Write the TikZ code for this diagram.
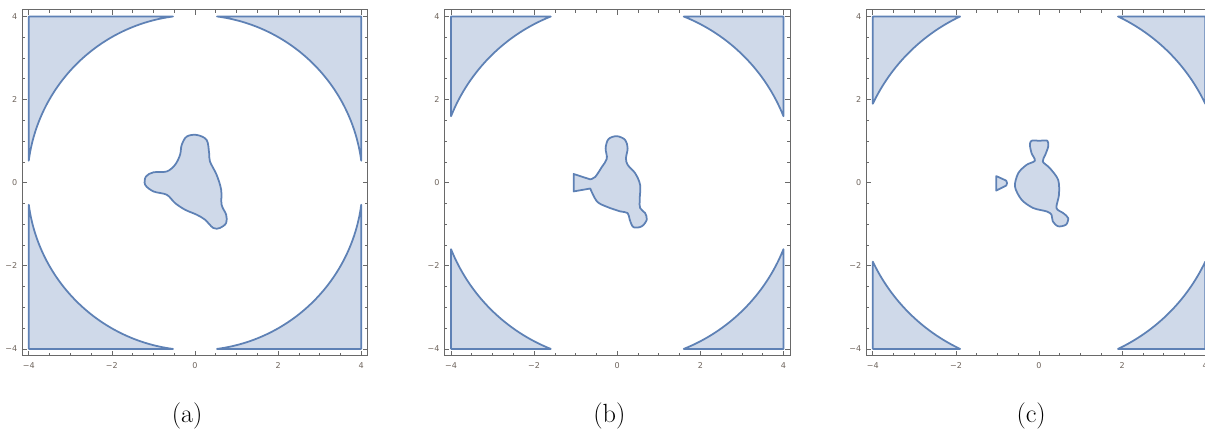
\documentclass[tikz,border=0pt]{standalone}
\usepackage{fontspec}
\newfontfamily\tickfont{DejaVu Sans}

\definecolor{edgeblue}{RGB}{94,129,181}
\definecolor{fillblue}{RGB}{207,217,233}
\definecolor{framegray}{RGB}{105,105,105}
\definecolor{labelgray}{RGB}{110,100,92}

\tikzset{
  region/.style={draw=edgeblue, fill=fillblue, line width=1.2pt, line join=round},
  framebox/.style={draw=framegray, line width=0.6pt},
  tickmark/.style={draw=framegray, line width=0.5pt},
  ticklabel/.style={text=labelgray, font=\tickfont\fontsize{5.5}{6}\selectfont, inner sep=0.6pt},
  caption/.style={font=\fontsize{18}{22}\selectfont, inner sep=0pt, anchor=base}
}

\begin{document}
\begin{tikzpicture}

  \useasboundingbox (0,0) rectangle (29.0,10.397);

  % Panneaux : cadre, graduations, coins
  \foreach \p/\cx/\a in {a/4.693/0.53, b/14.855/1.6, c/25.006/1.9} {
    \begin{scope}[shift={(\cx,6.0)}]
      \pgfmathsetmacro\r{sqrt(16+\a*\a)}
      \pgfmathsetmacro\t{asin(4/\r)}

      % coins hors du cercle
      \draw[region] (-4,4) -- (-\a,4) arc[start angle=180-\t, end angle=90+\t, radius=\r] -- cycle;
      \draw[region] (4,4) -- (4,\a) arc[start angle=90-\t, end angle=\t, radius=\r] -- cycle;
      \draw[region] (-4,-4) -- (-4,-\a) arc[start angle=270-\t, end angle=180+\t, radius=\r] -- cycle;
      \draw[region] (4,-4) -- (\a,-4) arc[start angle=-\t, end angle=\t-90, radius=\r] -- cycle;

      % cadre
      \draw[framebox] (-4.16,-4.16) rectangle (4.16,4.16);

      % graduations mineures
      \foreach \v in {-4,-3.5,...,4} {
        \draw[tickmark] (\v,-4.16) -- (\v,-4.095);
        \draw[tickmark] (\v,4.16) -- (\v,4.095);
        \draw[tickmark] (-4.16,\v) -- (-4.095,\v);
        \draw[tickmark] (4.16,\v) -- (4.095,\v);
      }
      % graduations majeures et labels
      \foreach \v/\lab in {-4/−4, -2/−2, 0/0, 2/2, 4/4} {
        \draw[tickmark] (\v,-4.16) -- (\v,-4.04);
        \draw[tickmark] (\v,4.16) -- (\v,4.04);
        \draw[tickmark] (-4.16,\v) -- (-4.04,\v);
        \draw[tickmark] (4.16,\v) -- (4.04,\v);
        \node[ticklabel, anchor=east] (yl\p\v) at (-4.25,\v) {\lab};
        \node[ticklabel, anchor=north] (xl\p\v) at (\v,-4.30) {\lab};
      }

      \node[caption] (cap\p) at (-0.19,-5.78) {(\p)};
    \end{scope}
  }

  % (a) trefle
  \begin{scope}[shift={(4.693,6.0)}]
    \draw[region] plot[smooth cycle, tension=0.55] coordinates {
      (0.04,1.15) (0.28,1.03) (0.34,0.71) (0.36,0.51) (0.52,0.19) (0.63,-0.17)
      (0.64,-0.53) (0.75,-0.77) (0.75,-0.97) (0.60,-1.09) (0.44,-1.09) (0.24,-0.89)
      (0.04,-0.77) (-0.24,-0.65) (-0.48,-0.49) (-0.68,-0.29) (-1.0,-0.21) (-1.2,-0.05)
      (-1.18,0.15) (-1.0,0.25) (-0.68,0.27) (-0.48,0.43) (-0.36,0.67) (-0.32,0.91)
      (-0.2,1.11)};
  \end{scope}

  % (b) avec pointe a gauche
  \begin{scope}[shift={(14.855,6.0)}]
    \draw[region] (-1.05,0.21) -- (-0.65,0.08) -- plot[smooth, tension=0.55] coordinates {
      (-0.65,0.08) (-0.53,0.14) (-0.37,0.38) (-0.25,0.58) (-0.28,0.83) (-0.21,1.05)
      (-0.01,1.12) (0.19,1.03) (0.25,0.83) (0.21,0.59) (0.25,0.43) (0.43,0.23)
      (0.55,-0.05) (0.54,-0.41) (0.55,-0.61) (0.67,-0.73) (0.71,-0.89) (0.59,-1.05)
      (0.39,-1.07) (0.30,-0.89) (0.25,-0.73) (0.07,-0.69) (-0.25,-0.58) (-0.49,-0.45)
      (-0.65,-0.14)} -- (-1.05,-0.21) -- cycle;
  \end{scope}

  % (c) corps et petit triangle
  \begin{scope}[shift={(25.006,6.0)}]
    \draw[region] plot[smooth cycle, tension=0.5] coordinates {
      (-0.18,1.01) (0.01,1.01) (0.2,1.01) (0.22,0.87) (0.15,0.67) (0.09,0.51) (0.26,0.35)
      (0.46,0.07) (0.48,-0.29) (0.42,-0.61) (0.58,-0.73) (0.70,-0.85) (0.65,-1.01)
      (0.46,-1.05) (0.33,-0.93) (0.30,-0.77) (0.18,-0.69) (-0.14,-0.61) (-0.42,-0.41)
      (-0.58,-0.09) (-0.50,0.23) (-0.30,0.43) (-0.10,0.53) (-0.18,0.71) (-0.22,0.91)};
    \draw[region] (-1.03,0.16) -- (-1.03,-0.19) -- (-0.79,-0.07) -- (-0.77,-0.01) -- (-0.79,0.05) -- cycle;
  \end{scope}

\end{tikzpicture}
\end{document}
